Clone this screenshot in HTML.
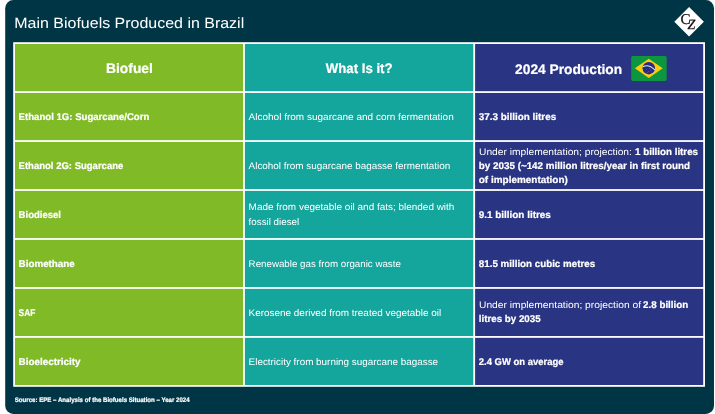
<!DOCTYPE html>
<html>
<head>
<meta charset="utf-8">
<title>Main Biofuels Produced in Brazil</title>
<style>
html,body{margin:0;padding:0;background:#fff;}
body{width:715px;height:414px;overflow:hidden;}
svg{display:block;position:absolute;left:0;top:0;will-change:transform;}
text{font-family:"Liberation Sans",sans-serif;fill:#fff;text-rendering:geometricPrecision;}
.b{font-weight:bold;stroke:#fff;stroke-width:0.22;}
.lg{font-family:"Liberation Serif",serif;fill:#111;stroke:#111;stroke-width:0.25;}
</style>
</head>
<body>
<svg width="715" height="414" viewBox="0 0 715 414">
<rect x="5.2" y="0" width="708.8" height="414" rx="8.2" ry="8.2" fill="#003546"/>
<rect x="13.20" y="42.20" width="691.80" height="344.59" fill="#fff"/>
<rect x="15.00" y="44.00" width="228.10" height="47.17" fill="#80ba27"/>
<rect x="244.90" y="44.00" width="228.40" height="47.17" fill="#14a69d"/>
<rect x="475.10" y="44.00" width="228.10" height="47.17" fill="#293482"/>
<rect x="15.00" y="92.97" width="228.10" height="47.17" fill="#80ba27"/>
<rect x="244.90" y="92.97" width="228.40" height="47.17" fill="#14a69d"/>
<rect x="475.10" y="92.97" width="228.10" height="47.17" fill="#293482"/>
<rect x="15.00" y="141.94" width="228.10" height="47.17" fill="#80ba27"/>
<rect x="244.90" y="141.94" width="228.40" height="47.17" fill="#14a69d"/>
<rect x="475.10" y="141.94" width="228.10" height="47.17" fill="#293482"/>
<rect x="15.00" y="190.91" width="228.10" height="47.17" fill="#80ba27"/>
<rect x="244.90" y="190.91" width="228.40" height="47.17" fill="#14a69d"/>
<rect x="475.10" y="190.91" width="228.10" height="47.17" fill="#293482"/>
<rect x="15.00" y="239.88" width="228.10" height="47.17" fill="#80ba27"/>
<rect x="244.90" y="239.88" width="228.40" height="47.17" fill="#14a69d"/>
<rect x="475.10" y="239.88" width="228.10" height="47.17" fill="#293482"/>
<rect x="15.00" y="288.85" width="228.10" height="47.17" fill="#80ba27"/>
<rect x="244.90" y="288.85" width="228.40" height="47.17" fill="#14a69d"/>
<rect x="475.10" y="288.85" width="228.10" height="47.17" fill="#293482"/>
<rect x="15.00" y="337.82" width="228.10" height="47.17" fill="#80ba27"/>
<rect x="244.90" y="337.82" width="228.40" height="47.17" fill="#14a69d"/>
<rect x="475.10" y="337.82" width="228.10" height="47.17" fill="#293482"/>
<polygon points="674.3,21.8 689.1,7 703.9,21.8 689.1,36.6" fill="#fff"/>
<text class="lg" x="680.6" y="24.2" font-size="15">C</text>
<text class="lg" x="687.6" y="28.6" font-size="14" font-style="italic">Z</text>
<rect x="631.2" y="55.9" width="35.5" height="25" rx="1.6" fill="#0d9640"/>
<polygon points="634.9,68.35 648.8,58.7 662.7,68.35 648.8,78" fill="#fccd0e"/>
<circle cx="648.75" cy="68.2" r="6.2" fill="#29297f"/>
<path d="M642.9,66.7 Q648.6,63.6 654.8,69.9" stroke="#dcebf7" stroke-width="1.05" fill="none"/>
<g fill="#9fb4dd" opacity="0.75"><circle cx="646.2" cy="69.6" r="0.45"/><circle cx="648.3" cy="71.4" r="0.45"/><circle cx="650.6" cy="70.1" r="0.45"/><circle cx="651.8" cy="71.9" r="0.4"/><circle cx="647.3" cy="72.6" r="0.4"/><circle cx="649.6" cy="68.6" r="0.4"/></g>
<text x="14.3" y="27.6" font-size="14.9" textLength="229.9" lengthAdjust="spacingAndGlyphs">Main Biofuels Produced in Brazil</text>
<text x="106.0" y="72.7" font-size="13.8" class="b" textLength="46.9" lengthAdjust="spacingAndGlyphs">Biofuel</text>
<text x="325.8" y="72.8" font-size="13.8" class="b" textLength="66.8" lengthAdjust="spacingAndGlyphs">What Is it?</text>
<text x="515.1" y="73.8" font-size="13.8" class="b" textLength="107.0" lengthAdjust="spacingAndGlyphs">2024 Production</text>
<text x="18.6" y="120.2" font-size="9.8" class="b" textLength="130.7" lengthAdjust="spacingAndGlyphs">Ethanol 1G: Sugarcane/Corn</text>
<text x="18.6" y="169.1" font-size="9.8" class="b" textLength="104.7" lengthAdjust="spacingAndGlyphs">Ethanol 2G: Sugarcane</text>
<text x="18.6" y="218.0" font-size="9.8" class="b" textLength="42.4" lengthAdjust="spacingAndGlyphs">Biodiesel</text>
<text x="18.6" y="267.0" font-size="9.8" class="b" textLength="56.2" lengthAdjust="spacingAndGlyphs">Biomethane</text>
<text x="18.6" y="316.0" font-size="9.8" class="b" textLength="16.7" lengthAdjust="spacingAndGlyphs">SAF</text>
<text x="18.6" y="365.0" font-size="9.8" class="b" textLength="62.0" lengthAdjust="spacingAndGlyphs">Bioelectricity</text>
<text x="248.6" y="120.2" font-size="9.6" textLength="205.1" lengthAdjust="spacingAndGlyphs">Alcohol from sugarcane and corn fermentation</text>
<text x="248.6" y="169.1" font-size="9.6" textLength="201.6" lengthAdjust="spacingAndGlyphs">Alcohol from sugarcane bagasse fermentation</text>
<text x="248.6" y="210.2" font-size="9.6" textLength="205.8" lengthAdjust="spacingAndGlyphs">Made from vegetable oil and fats; blended with</text>
<text x="248.6" y="224.9" font-size="9.6" textLength="50.6" lengthAdjust="spacingAndGlyphs">fossil diesel</text>
<text x="248.6" y="267.0" font-size="9.6" textLength="152.3" lengthAdjust="spacingAndGlyphs">Renewable gas from organic waste</text>
<text x="248.6" y="316.0" font-size="9.6" textLength="192.6" lengthAdjust="spacingAndGlyphs">Kerosene derived from treated vegetable oil</text>
<text x="248.6" y="365.0" font-size="9.6" textLength="189.5" lengthAdjust="spacingAndGlyphs">Electricity from burning sugarcane bagasse</text>
<text x="478.8" y="120.2" font-size="9.8" class="b" textLength="77.4" lengthAdjust="spacingAndGlyphs">37.3 billion litres</text>
<text x="479.0" y="154.8" font-size="9.6" textLength="152.9" lengthAdjust="spacingAndGlyphs">Under implementation; projection:</text>
<text x="635.1" y="154.8" font-size="9.8" class="b" textLength="62.9" lengthAdjust="spacingAndGlyphs">1 billion litres</text>
<text x="478.8" y="168.9" font-size="9.8" class="b" textLength="211.3" lengthAdjust="spacingAndGlyphs">by 2035 (~142 million litres/year in first round</text>
<text x="478.8" y="183.1" font-size="9.8" class="b" textLength="89.0" lengthAdjust="spacingAndGlyphs">of implementation)</text>
<text x="478.8" y="218.0" font-size="9.8" class="b" textLength="72.0" lengthAdjust="spacingAndGlyphs">9.1 billion litres</text>
<text x="478.8" y="267.0" font-size="9.8" class="b" textLength="116.3" lengthAdjust="spacingAndGlyphs">81.5 million cubic metres</text>
<text x="479.0" y="308.0" font-size="9.6" textLength="162.0" lengthAdjust="spacingAndGlyphs">Under implementation; projection of</text>
<text x="643.1" y="308.0" font-size="9.8" class="b" textLength="45.1" lengthAdjust="spacingAndGlyphs">2.8 billion</text>
<text x="478.8" y="322.2" font-size="9.8" class="b" textLength="61.8" lengthAdjust="spacingAndGlyphs">litres by 2035</text>
<text x="478.8" y="365.0" font-size="9.8" class="b" textLength="84.8" lengthAdjust="spacingAndGlyphs">2.4 GW on average</text>
<text x="14.8" y="401.8" font-size="6.6" class="b" textLength="174.8" lengthAdjust="spacingAndGlyphs">Source: EPE – Analysis of the Biofuels Situation – Year 2024</text>
</svg>
</body>
</html>
